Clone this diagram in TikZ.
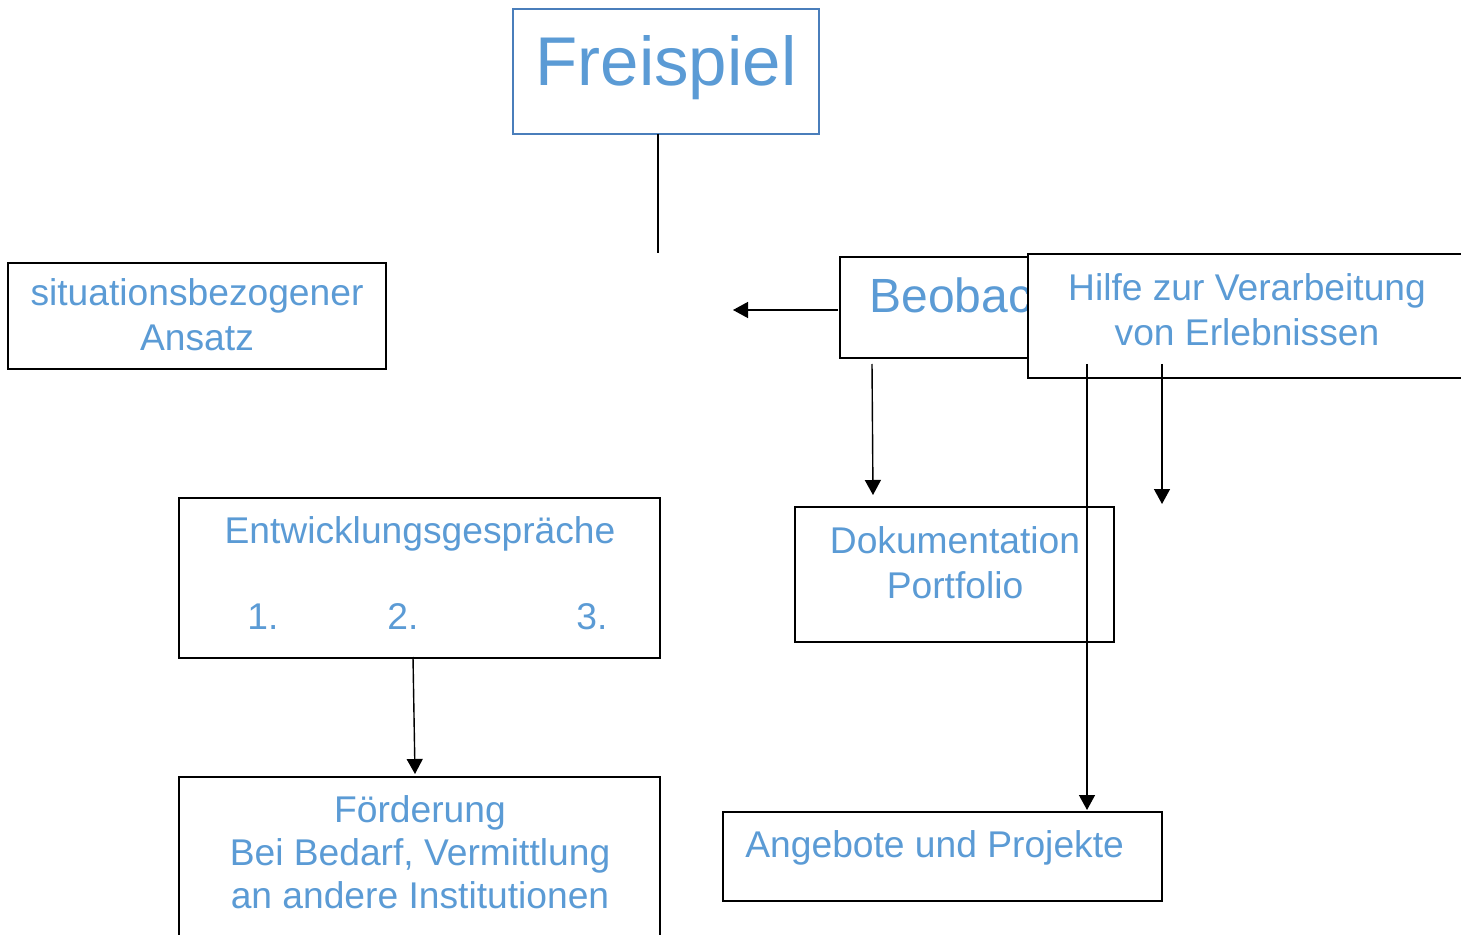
\documentclass[tikz,border=0pt]{standalone}
\usepackage{fontspec}
\setmainfont{Liberation Sans}
\usetikzlibrary{positioning, arrows.meta}
\definecolor{txtblue}{RGB}{91,155,213}
\definecolor{boxblue}{RGB}{74,126,187}

\tikzset{
	box/.style={draw=black, line width=1pt, fill=white, inner sep=0pt, outer sep=0pt, anchor=north west},
	lbl/.style={text=txtblue, font=\fontsize{18.6}{22.5}\selectfont, align=center, anchor=base, inner sep=0pt},
	conn/.style={line width=0.7pt},
	arr/.style={conn, -{Triangle[length=7.5pt,width=8pt]}},
}

\begin{document}
\begin{tikzpicture}[x=0.5pt, y=-0.5pt]
	\path[use as bounding box] (0,0) rectangle (1461,935);
	\clip (0,0) rectangle (1461,935);

	% boxes (multi-line labels sit on their last baseline)
	\node[box, draw=boxblue, minimum width=153pt, minimum height=62.5pt] (frei) at (513,9) {};
	\node[lbl, font=\fontsize{34.5}{40}\selectfont] (freiT) at (666,86) {Freispiel};

	\node[box, minimum width=189pt, minimum height=53pt] (situ) at (8,263) {};
	\node[lbl] (situT) at (197,351) {situationsbezogener\\Ansatz};

	\node[box, minimum width=120pt, minimum height=50.5pt] (beob) at (840,257) {};
	\node[lbl, anchor=base west, font=\fontsize{24}{28}\selectfont] (beobT) at (869,313) {Beobac};

	\node[box, minimum width=240pt, minimum height=62pt] (hilfe) at (1028,254) {};
	\node[lbl] (hilfeT) at (1247,346) {Hilfe zur Verarbeitung\\von Erlebnissen};

	\node[box, minimum width=240.5pt, minimum height=80pt] (entw) at (179,498) {};
	\node[lbl] (entwT) at (420,543) {Entwicklungsgespräche};
	\node[lbl] (eins) at (263,629) {1.};
	\node[lbl] (zwei) at (403,629) {2.};
	\node[lbl] (drei) at (592,629) {3.};

	\node[box, minimum width=159.5pt, minimum height=67.5pt] (doku) at (795,507) {};
	\node[lbl] (dokuT) at (955,598) {Dokumentation\\Portfolio};

	\node[box, minimum width=240.5pt, minimum height=100pt] (foerd) at (179,777) {};
	\node[lbl, font=\fontsize{18.6}{21.5}\selectfont] (foerdT) at (420,908) {Förderung\\Bei Bedarf, Vermittlung\\an andere Institutionen};

	\node[box, minimum width=219.5pt, minimum height=44.5pt] (ange) at (723,812) {};
	\node[lbl, anchor=base west] (angeT) at (745,857) {Angebote und Projekte};

	% free ends
	\coordinate (freiEnd) at (658,253);
	\coordinate (leftEnd) at (733,310);
	\coordinate (hilfeEnd) at (1162,504);

	% connectors
	\draw[conn] ([xshift=-4pt]frei.south) -- (freiEnd);
	\draw[arr] ([xshift=-1pt, yshift=-1.25pt]beob.west) -- (leftEnd);
	\draw[arr] ([xshift=16pt, yshift=-3pt]beob.south west) -- ([xshift=39pt, yshift=6pt]doku.north west);
	\draw[arr] ([xshift=29.5pt, yshift=7pt]hilfe.south west) -- ([xshift=182pt, yshift=1pt]ange.north west);
	\draw[arr] ([xshift=67pt, yshift=7pt]hilfe.south west) -- (hilfeEnd);
	\draw[arr] ([xshift=117pt, yshift=0.5pt]entw.south west) -- ([xshift=118pt, yshift=1.5pt]foerd.north west);
\end{tikzpicture}
\end{document}
